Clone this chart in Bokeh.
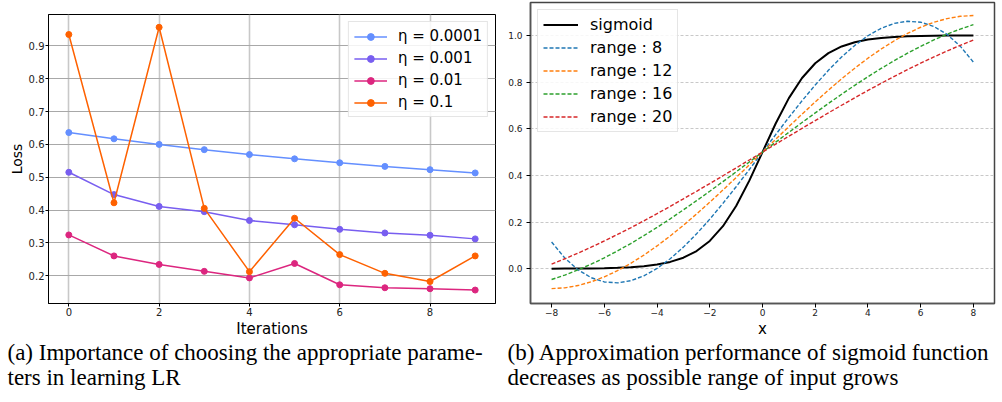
from bokeh.plotting import figure
from bokeh.layouts import column, row
from bokeh.models import Range1d, FixedTicker, PrintfTickFormatter, CustomJSTickFormatter
from bokeh.core.properties import value
from bokeh.embed import file_html
from bokeh.resources import INLINE

# ---------------- data: panel (a) ----------------
iterations = [0, 1, 2, 3, 4, 5, 6, 7, 8, 9]
loss_eta_0001 = [0.636, 0.617, 0.600, 0.584, 0.569, 0.556, 0.544, 0.533, 0.523, 0.513]
loss_eta_001 = [0.515, 0.447, 0.411, 0.395, 0.368, 0.355, 0.341, 0.330, 0.323, 0.312]
loss_eta_01 = [0.324, 0.260, 0.234, 0.213, 0.193, 0.237, 0.172, 0.163, 0.160, 0.156]
loss_eta_1 = [0.935, 0.422, 0.957, 0.405, 0.212, 0.375, 0.264, 0.207, 0.182, 0.260]
eta_labels = ["η = 0.0001", "η = 0.001", "η = 0.01", "η = 0.1"]
eta_colors = ["#648FFF", "#785EF0", "#DC267F", "#FE6100"]
a_xticks = [0, 2, 4, 6, 8]
a_yticks = [0.2, 0.3, 0.4, 0.5, 0.6, 0.7, 0.8, 0.9]

# ---------------- data: panel (b) ----------------
x_vals = [-8.0, -7.5, -7.0, -6.5, -6.0, -5.5, -5.0, -4.5, -4.0, -3.5, -3.0, -2.5, -2.0, -1.5, -1.0, -0.5,
          0.0, 0.5, 1.0, 1.5, 2.0, 2.5, 3.0, 3.5, 4.0, 4.5, 5.0, 5.5, 6.0, 6.5, 7.0, 7.5, 8.0]
sigmoid_vals = [0.0003, 0.0006, 0.0009, 0.0015, 0.0025, 0.0041, 0.0067, 0.0110, 0.0180, 0.0293, 0.0474,
                0.0759, 0.1192, 0.1824, 0.2689, 0.3775, 0.5, 0.6225, 0.7311, 0.8176, 0.8808, 0.9241,
                0.9526, 0.9707, 0.9820, 0.9890, 0.9933, 0.9959, 0.9975, 0.9985, 0.9991, 0.9994, 0.9997]
range8_vals = [0.1147, 0.0461, -0.0044, -0.0383, -0.0566, -0.0606, -0.0515, -0.0304, 0.0015, 0.0429,
               0.0926, 0.1496, 0.2125, 0.2802, 0.3515, 0.4251, 0.5, 0.5749, 0.6485, 0.7198, 0.7875,
               0.8504, 0.9074, 0.9571, 0.9985, 1.0304, 1.0515, 1.0606, 1.0566, 1.0383, 1.0044, 0.9539, 0.8853]
range12_vals = [-0.0853, -0.0819, -0.0721, -0.0562, -0.0349, -0.0084, 0.0229, 0.0584, 0.0977, 0.1405,
                0.1863, 0.2347, 0.2852, 0.3374, 0.3909, 0.4452, 0.5, 0.5548, 0.6091, 0.6626, 0.7148,
                0.7653, 0.8137, 0.8595, 0.9023, 0.9416, 0.9771, 1.0084, 1.0349, 1.0562, 1.0721, 1.0819, 1.0853]
range16_vals = [-0.0461, -0.0271, -0.0051, 0.0195, 0.0468, 0.0763, 0.1080, 0.1416, 0.1770, 0.2140,
                0.2523, 0.2918, 0.3323, 0.3735, 0.4154, 0.4576, 0.5, 0.5424, 0.5846, 0.6265, 0.6677,
                0.7082, 0.7477, 0.7860, 0.8230, 0.8584, 0.8920, 0.9237, 0.9532, 0.9805, 1.0051, 1.0271, 1.0461]
range20_vals = [0.0200, 0.0427, 0.0669, 0.0923, 0.1190, 0.1468, 0.1756, 0.2054, 0.2360, 0.2674,
                0.2994, 0.3319, 0.3650, 0.3984, 0.4321, 0.4660, 0.5, 0.5340, 0.5679, 0.6016, 0.6350,
                0.6681, 0.7006, 0.7326, 0.7640, 0.7946, 0.8244, 0.8532, 0.8810, 0.9077, 0.9331, 0.9573, 0.9800]
range_labels = ["range : 8", "range : 12", "range : 16", "range : 20"]
range_colors = ["#1f77b4", "#ff7f0e", "#2ca02c", "#d62728"]
b_xticks = [-8, -6, -4, -2, 0, 2, 4, 6, 8]
b_yticks = [0.0, 0.2, 0.4, 0.6, 0.8, 1.0]

captions = ["(a) Importance of choosing the appropriate parame-", "ters in learning LR",
            "(b) Approximation performance of sigmoid function", "decreases as possible range of input grows"]

FONT = "DejaVu Sans"

# ---------------- panel (a) ----------------
p1 = figure(width=502, height=340, x_range=Range1d(-0.45, 9.45), y_range=Range1d(0.115, 0.996),
            output_backend="svg", toolbar_location=None, frame_align=False,
            min_border_left=48, min_border_right=7, min_border_top=14, min_border_bottom=35)
for ys, lbl, col in zip([loss_eta_0001, loss_eta_001, loss_eta_01, loss_eta_1], eta_labels, eta_colors):
    p1.line(iterations, ys, line_color=col, line_width=1.5, legend_label=lbl)
    p1.scatter(iterations, ys, size=6, fill_color=col, line_color=col, legend_label=lbl)

p1.xaxis.ticker = FixedTicker(ticks=a_xticks)
p1.yaxis.ticker = FixedTicker(ticks=a_yticks)
p1.yaxis.formatter = PrintfTickFormatter(format="%.1f")
p1.xaxis.axis_label = "Iterations"
p1.yaxis.axis_label = "Loss"
p1.xgrid.grid_line_color = "#c8c8c8"
p1.xgrid.grid_line_width = 1.6
p1.ygrid.grid_line_color = "#a8a8a8"
p1.ygrid.grid_line_width = 1
p1.outline_line_color = "black"
p1.outline_line_width = 1
p1.outline_line_alpha = 1

# ---------------- panel (b) ----------------
p2 = figure(width=498, height=340, x_range=Range1d(-8.8, 8.8), y_range=Range1d(-0.149, 1.141),
            output_backend="svg", toolbar_location=None, frame_align=False,
            min_border_left=28, min_border_right=6, min_border_top=2, min_border_bottom=37)
p2.line(x_vals, sigmoid_vals, line_color="black", line_width=2, legend_label="sigmoid")
for ys, lbl, col in zip([range8_vals, range12_vals, range16_vals, range20_vals], range_labels, range_colors):
    p2.line(x_vals, ys, line_color=col, line_width=1.4, line_dash="4 2", legend_label=lbl)

p2.xaxis.ticker = FixedTicker(ticks=b_xticks)
p2.yaxis.ticker = FixedTicker(ticks=b_yticks)
p2.xaxis.formatter = CustomJSTickFormatter(code="return (tick < 0 ? '\\u2212' : '') + Math.abs(tick).toFixed(0);")
p2.yaxis.formatter = PrintfTickFormatter(format="%.1f")
p2.xaxis.axis_label = "x"
p2.xgrid.visible = False
p2.ygrid.grid_line_color = "#c8c8c8"
p2.ygrid.grid_line_width = 1
p2.ygrid.grid_line_dash = "3 2"
p2.outline_line_color = "#444444"
p2.outline_line_width = 1.5
p2.outline_line_alpha = 1

for p in (p1, p2):
    p.background_fill_color = "white"
    p.border_fill_color = "white"
    for ax in (p.xaxis[0], p.yaxis[0]):
        ax.major_tick_out = 4
        ax.major_tick_in = 0
        ax.minor_tick_out = 0
        ax.minor_tick_in = 0
        ax.major_label_text_font = FONT
        ax.major_label_text_color = "#222222"
        ax.axis_label_text_font = FONT
        ax.axis_label_text_font_style = "normal"
        ax.axis_label_text_color = "black"
        ax.major_label_standoff = 1
        ax.axis_label_standoff = 1
    lg = p.legend[0]
    lg.label_text_font = FONT
    lg.label_text_color = "black"
    lg.glyph_height = 17
    lg.label_height = 17
    lg.spacing = 4
    lg.padding = 5
    lg.border_line_color = "#cccccc"
    lg.border_line_width = 1
    lg.background_fill_alpha = 0.85

p1.xaxis.major_label_text_font_size = "10px"
p1.yaxis.major_label_text_font_size = "10px"
p1.xaxis.axis_label_text_font_size = "15px"
p1.yaxis.axis_label_text_font_size = "14px"
p1.xaxis.axis_line_color = "black"
p1.yaxis.axis_line_color = "black"
p1.xaxis.major_tick_out = 3
p1.yaxis.major_tick_out = 3
p1.legend.location = "top_right"
p1.legend.margin = 7
p1.legend.label_text_font_size = "15px"
p1.legend.glyph_width = 33
p1.legend.label_standoff = 11

p2.xaxis.major_label_text_font_size = "9px"
p2.yaxis.major_label_text_font_size = "9px"
p2.yaxis.major_label_standoff = 4
p2.xaxis.axis_label_text_font_size = "15px"
p2.xaxis.axis_line_color = "#555555"
p2.yaxis.axis_line_color = "#555555"
p2.xaxis.axis_line_width = 1.5
p2.yaxis.axis_line_width = 1.5
p2.legend.location = "top_left"
p2.legend.margin = 7
p2.legend.label_text_font_size = "16px"
p2.legend.glyph_width = 35
p2.legend.label_standoff = 12

# ---------------- captions ----------------
cap = figure(width=1000, height=60, x_range=Range1d(0, 1000), y_range=Range1d(0, 60),
             output_backend="svg", toolbar_location=None, min_border=0, frame_align=False,
             x_axis_location=None, y_axis_location=None)
cap.outline_line_color = None
cap.grid.visible = False
cap.text(x=[7, 7, 507, 507], y=[48, 23, 48, 23], text=captions,
         text_font=value("Liberation Serif"), text_font_size="23px",
         text_baseline="alphabetic", text_align="left", text_color="black")

layout = column(row(p1, p2, spacing=0), cap, spacing=0)
open("out.html", "w").write(file_html(layout, INLINE))
